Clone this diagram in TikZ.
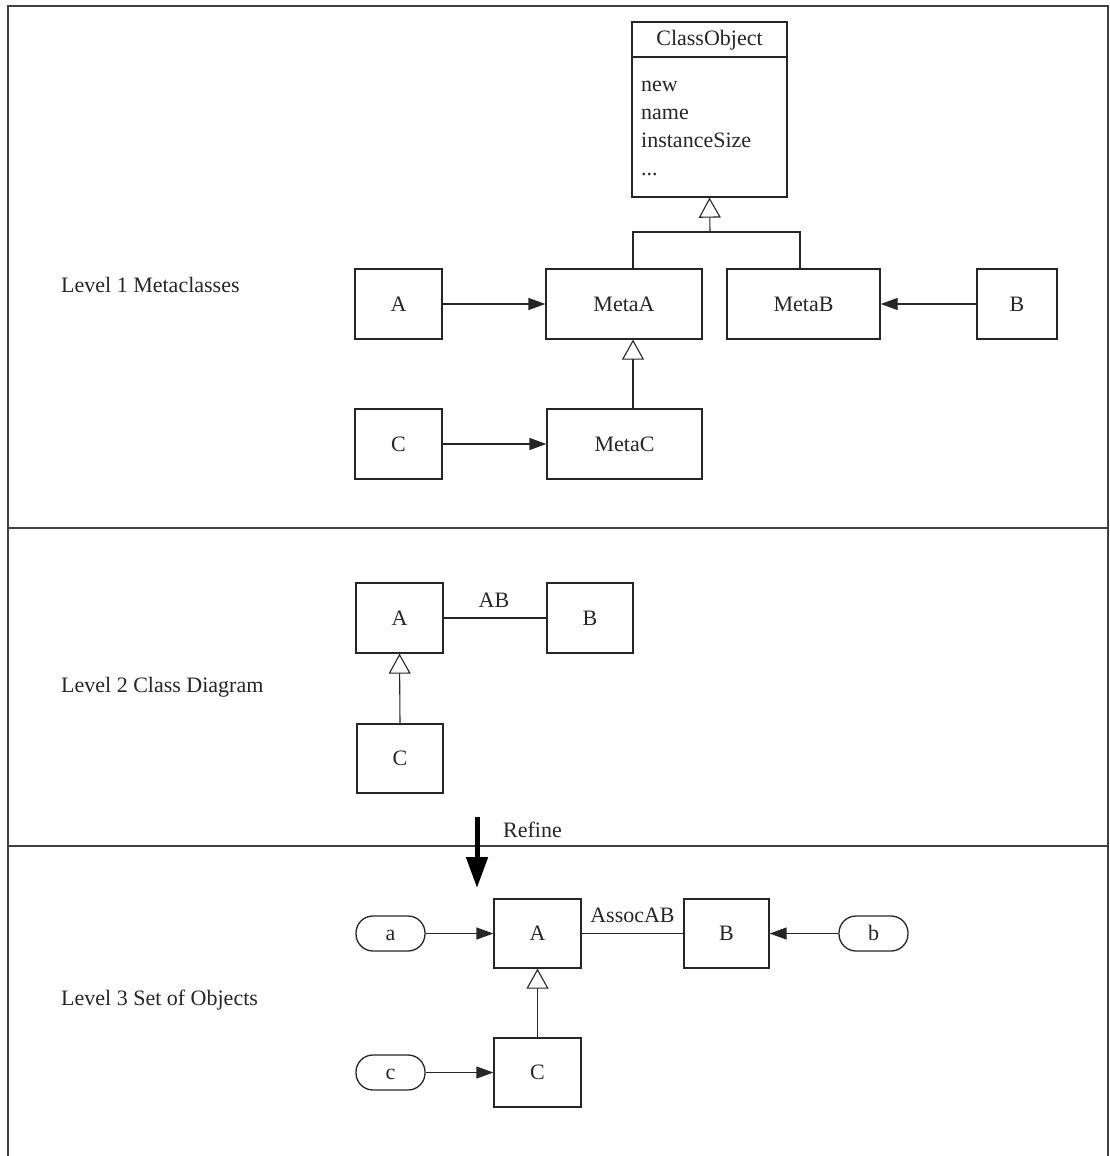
\documentclass[tikz,border=0pt]{standalone}
\usepackage{fontspec}
\setmainfont{Liberation Serif}
\usetikzlibrary{arrows.meta}
\begin{document}
\begin{tikzpicture}[x=1pt,y=-1pt,
  every node/.style={font=\fontsize{22}{26}\selectfont, text=black!85},
  box/.style={draw=black!85, line width=1.3pt, rectangle, inner sep=0pt, minimum height=70pt},
  pill/.style={draw=black!85, line width=1.3pt, rectangle, rounded corners=17pt, inner sep=0pt, minimum width=69pt, minimum height=35pt, text height=14pt, text depth=0pt},
  assoc/.style={draw=black!85, line width=1.3pt, -{Triangle[length=17pt,width=12pt]}},
  gen/.style={draw=black!85, line width=1.1pt, -{Triangle[open,length=20pt,width=22pt,fill=white]}},
  plain/.style={draw=black!85, line width=1.1pt},
  frame/.style={draw=black!75, line width=1.8pt},
  lbl/.style={anchor=west, inner sep=0pt}
]
\useasboundingbox (0,0) rectangle (1110,1156);
% frame and dividers
\coordinate (f1) at (8,1156);
\coordinate (f2) at (8,6);
\coordinate (f3) at (1108,6);
\coordinate (f4) at (1108,1156);
\draw[frame] (f1) -- (f2) -- (f3) -- (f4);
\coordinate (d1l) at (8,528);
\coordinate (d1r) at (1108,528);
\coordinate (d2l) at (8,846);
\coordinate (d2r) at (1108,846);
\draw[frame] (d1l) -- (d1r);
\draw[frame] (d2l) -- (d2r);

% level labels
\node[lbl] (l1) at (61,285) {Level 1 Metaclasses};
\node[lbl] (l2) at (61,687) {Level 2 Class Diagram};
\node[lbl] (l3) at (61,1000) {Level 3 Set of Objects};

% ---------- Level 1 ----------
\node[box, minimum width=155pt, minimum height=175pt] (co) at (709.5,109.5) {};
\coordinate (coL) at (632,57);
\coordinate (coR) at (787,57);
\draw[plain, line width=1.3pt] (coL) -- (coR);
\node (cot) at (709.5,40) {ClassObject};
\node[anchor=base west, inner sep=0pt] (at1) at (641,91) {new};
\node[anchor=base west, inner sep=0pt] (at2) at (641,119) {name};
\node[anchor=base west, inner sep=0pt] (at3) at (641,147) {instanceSize};
\node[anchor=base west, inner sep=0pt] (at4) at (641,175) {...};

\node[box, minimum width=87pt] (A1) at (398.5,304) {A};
\node[box, minimum width=156pt] (metaA) at (624,304) {MetaA};
\node[box, minimum width=153pt] (metaB) at (803.5,304) {MetaB};
\node[box, minimum width=80pt] (B1) at (1017,304) {B};
\node[box, minimum width=87pt] (C1) at (398.5,444) {C};
\node[box, minimum width=155pt] (metaC) at (624.5,444) {MetaC};

\coordinate (j) at (710,232);
\coordinate (tA) at (633,232);
\coordinate (tB) at (800,232);
\draw[gen] (j) -- (co.south);
\draw[plain] (tA |- metaA.north) -- (tA) -- (tB) -- (tB |- metaB.north);
\draw[assoc] (A1) -- (metaA);
\draw[assoc] (B1) -- (metaB);
\draw[assoc] (C1) -- (metaC);
\draw[gen] (metaC.north -| tA) -- (metaA.south -| tA);

% ---------- Level 2 ----------
\node[box, minimum width=87pt] (A2) at (399.5,618) {A};
\node[box, minimum width=86pt] (B2) at (590,618) {B};
\node[box, minimum width=86pt, minimum height=69pt] (C2) at (400,758.5) {C};
\draw[plain] (A2) -- (B2);
\node (ab) at (494,600) {AB};
\draw[gen] (C2.north) -- (A2.south);

% refine arrow
\coordinate (r1) at (477,817);
\coordinate (r2) at (477,888);
\draw[draw=black, line width=5pt, -{Triangle[length=31pt,width=21pt]}] (r1) -- (r2);
\node[lbl] (refine) at (503,830) {Refine};

% ---------- Level 3 ----------
\node[box, minimum width=87pt, minimum height=69pt] (A3) at (537.5,933.5) {A};
\node[box, minimum width=85pt, minimum height=69pt] (B3) at (726.5,933.5) {B};
\node[box, minimum width=87pt, minimum height=69pt] (C3) at (537.5,1072.5) {C};
\node[pill] (a) at (390.5,933.5) {a};
\node[pill] (b) at (873.5,933.5) {b};
\node[pill] (c) at (390.5,1072.5) {c};
\draw[plain] (A3) -- (B3);
\node (assocab) at (632.5,915) {AssocAB};
\draw[assoc] (a) -- (A3);
\draw[assoc] (b) -- (B3);
\draw[assoc] (c) -- (C3);
\draw[gen] (C3.north) -- (A3.south);
\end{tikzpicture}
\end{document}
